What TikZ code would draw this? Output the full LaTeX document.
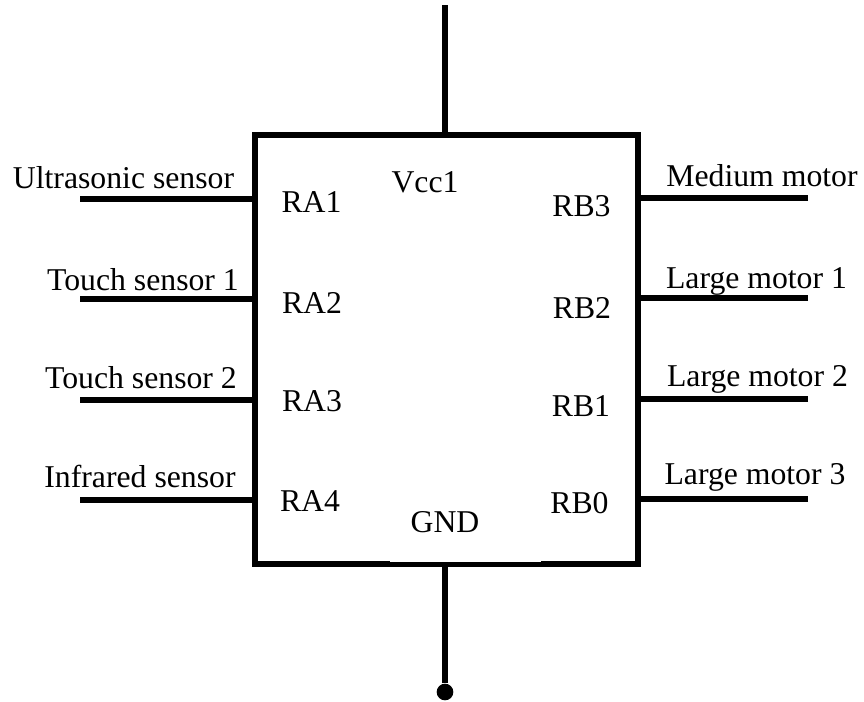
\documentclass[tikz,border=0pt]{standalone}
\usepackage{fontspec}
\setmainfont{Liberation Serif}
\tikzset{
    pinline/.style={line width=4.5pt},
    pintext/.style={inner sep=0pt,anchor=base,font=\fontsize{23.8}{28}\selectfont},
}
\begin{document}
\begin{tikzpicture}[x=0.75pt,y=-0.75pt]
    \useasboundingbox (0,0) rectangle (864,701);

    \node[draw,line width=4.5pt,minimum width=287.25pt,minimum height=321.75pt,inner sep=0pt] (chip) at (446.5,349) {};
    \fill[white] (390,558.5) rectangle (541,561.7);

    \foreach \name/\y/\txt/\tx/\ty/\pin/\px/\py in {
        a1/199/Ultrasonic sensor/123.5/188/RA1/311.5/212,
        a2/299/Touch sensor 1/143/290/RA2/312/313,
        a3/400/Touch sensor 2/141/388/RA3/312/411,
        a4/500/Infrared sensor/140/487/RA4/310/511} {
        \coordinate (\name) at (80,\y);
        \draw[pinline] (\name) -- (\name -| chip.west);
        \node[pintext] (\name label) at (\tx,\ty) {\txt};
        \node[pintext] (\name pin) at (\px,\py) {\pin};
    }
    \foreach \name/\y/\txt/\tx/\ty/\pin/\px/\py in {
        b3/198/Medium motor/762/186/RB3/581.5/216,
        b2/298/Large motor 1/756.5/288/RB2/582/318,
        b1/399/Large motor 2/757.5/386/RB1/581/416,
        b0/499/Large motor 3/755/484/RB0/579.5/513} {
        \coordinate (\name) at (808,\y);
        \draw[pinline] (\name) -- (\name -| chip.east);
        \node[pintext] (\name label) at (\tx,\ty) {\txt};
        \node[pintext] (\name pin) at (\px,\py) {\pin};
    }

    \coordinate (vcc) at (445,5);
    \node[circle,fill,inner sep=0pt,minimum size=12.5pt] (gnd) at (445,692) {};
    \draw[pinline] (vcc) -- (vcc |- chip.north);
    \draw[pinline] (gnd) -- (gnd |- chip.south);
    \node[pintext] (vcc label) at (425,192) {Vcc1};
    \node[pintext] (gnd label) at (445,532) {GND};
\end{tikzpicture}
\end{document}
